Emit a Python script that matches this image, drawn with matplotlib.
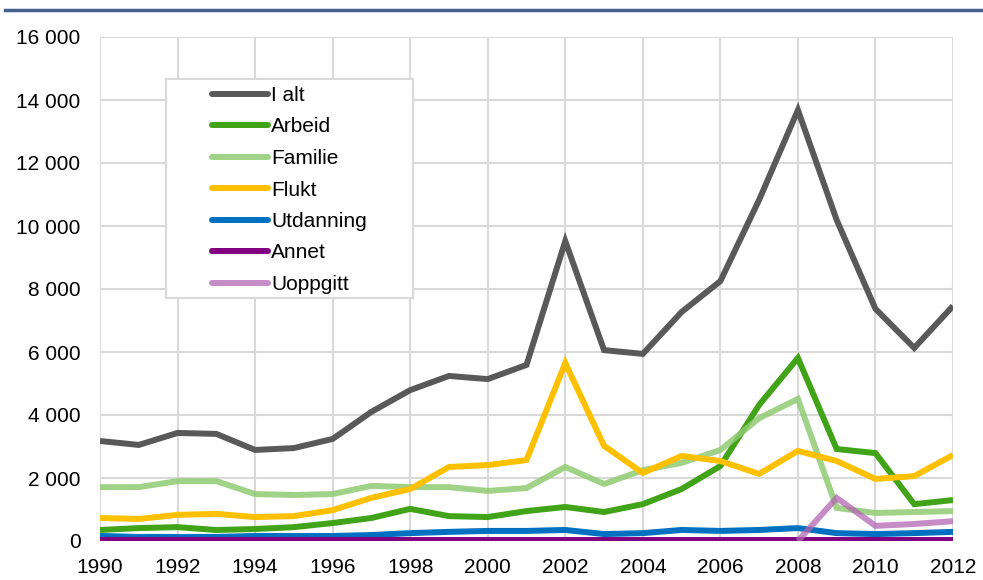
import numpy as np
import matplotlib.pyplot as plt
from matplotlib.patches import Rectangle
from matplotlib.ticker import FuncFormatter

plt.rcParams['font.family'] = ['Liberation Sans', 'DejaVu Sans']

years = list(range(1990, 2013))
i_alt = [3175, 3050, 3430, 3400, 2890, 2950, 3240, 4100, 4790, 5240, 5140, 5590,
         9520, 6060, 5940, 7270, 8250, 10830, 13680, 10190, 7370, 6130, 7460]
arbeid = [350, 410, 440, 350, 380, 440, 570, 730, 1020, 790, 760, 950,
          1080, 920, 1170, 1650, 2380, 4320, 5810, 2920, 2790, 1170, 1300]
familie = [1710, 1710, 1900, 1900, 1490, 1460, 1490, 1750, 1710, 1710, 1590, 1680,
           2350, 1810, 2250, 2480, 2890, 3900, 4510, 1050, 890, 920, 950]
flukt = [730, 700, 830, 860, 760, 790, 980, 1370, 1650, 2350, 2410, 2570,
         5650, 3020, 2160, 2700, 2540, 2130, 2860, 2540, 1970, 2060, 2730]
utdanning = [160, 130, 130, 130, 160, 160, 160, 190, 250, 290, 320, 320,
             350, 220, 250, 350, 320, 350, 410, 250, 220, 250, 290]
annet = [40] * 23
uoppgitt = [np.nan] * 18 + [0, 1370, 480, 540, 630]

series = [
    ("I alt", i_alt, "#595959", 1.0),
    ("Arbeid", arbeid, "#41A317", 1.0),
    ("Familie", familie, "#8FCB72", 0.85),
    ("Flukt", flukt, "#FFC000", 1.0),
    ("Utdanning", utdanning, "#0070C0", 1.0),
    ("Annet", annet, "#800080", 1.0),
    ("Uoppgitt", uoppgitt, "#B266B2", 0.75),
]

W, H = 983, 580
fig = plt.figure(figsize=(W / 100, H / 100), dpi=100)
ax = fig.add_axes([100 / W, 1 - 541 / H, 853 / W, 504 / H])

handles = []
for name, vals, col, a in series:
    ln, = ax.plot(years, vals, color=col, lw=4.3, alpha=a, label=name,
                  solid_capstyle='butt', solid_joinstyle='miter', zorder=3)
    handles.append(ln)

ax.set_xlim(1990, 2012)
ax.set_ylim(0, 16000)
ax.set_xticks(range(1990, 2013, 2))
ax.set_yticks(range(0, 16001, 2000))
ax.yaxis.set_major_formatter(FuncFormatter(lambda v, p: f"{int(v):,}".replace(",", " ")))
ax.grid(True, color="#D9D9D9", lw=1.5, zorder=0)
ax.tick_params(length=0, labelsize=15)
ax.tick_params(axis='y', pad=14)
ax.tick_params(axis='x', pad=12)
for s in ax.spines.values():
    s.set_visible(False)

# legend box like the reference (wide padding on the left)
fig.add_artist(Rectangle((166 / W, 1 - 298 / H), 247 / W, 219 / H,
                         transform=fig.transFigure, facecolor='white',
                         edgecolor="#D9D9D9", lw=1.5, zorder=4))
leg = fig.legend(handles, [s[0] for s in series], loc='upper left',
                 bbox_to_anchor=(212 / W, 1 - 86 / H), fontsize=15,
                 frameon=False, handlelength=2.7, handletextpad=0.15,
                 labelspacing=0.6, borderpad=0, borderaxespad=0)
leg.set_zorder(5)
for h in leg.legend_handles:
    h.set_solid_capstyle('round')
    h.set_linewidth(4.3)

# blue rule at top
fig.add_artist(plt.Line2D([5 / W, 1], [1 - 10 / H] * 2, color="#44618F", lw=2.5))

fig.savefig("out.png", dpi=100)
